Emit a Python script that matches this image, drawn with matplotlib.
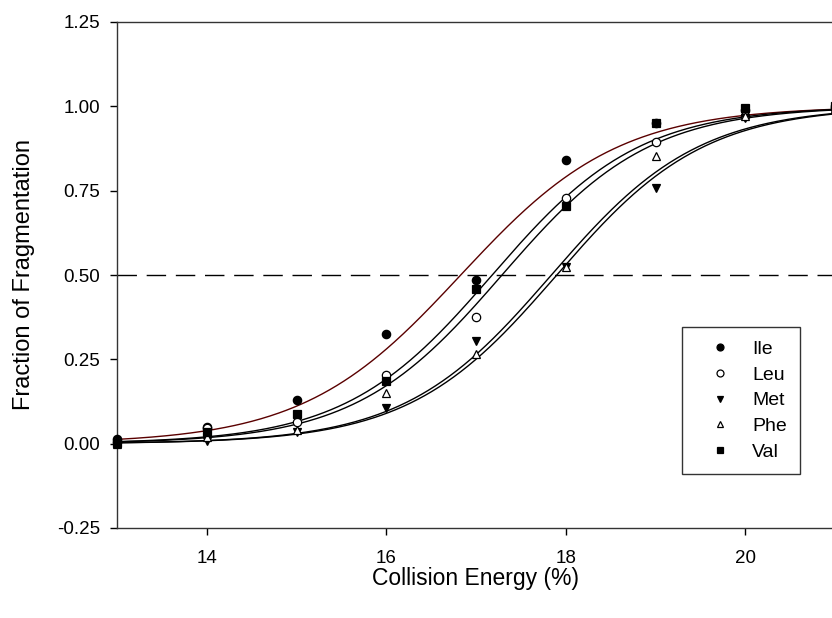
import numpy as np
import matplotlib
matplotlib.use("Agg")
import matplotlib.pyplot as plt
from matplotlib.ticker import FormatStrFormatter
from matplotlib.lines import Line2D

plt.rcParams['font.family'] = ['Liberation Sans', 'DejaVu Sans']
plt.rcParams['axes.unicode_minus'] = False

energy = [13, 14, 15, 16, 17, 18, 19, 20, 21]
ile = [0.015, 0.050, 0.130, 0.326, 0.485, 0.841, 0.950, 0.990, 1.000]
leu = [0.005, 0.045, 0.065, 0.203, 0.375, 0.727, 0.894, 0.970, 0.995]
met = [0.000, 0.008, 0.035, 0.105, 0.305, 0.525, 0.757, 0.965, 0.995]
phe = [0.000, 0.020, 0.040, 0.149, 0.265, 0.525, 0.853, 0.970, 0.995]
val = [0.003, 0.035, 0.087, 0.187, 0.458, 0.705, 0.952, 0.994, 1.000]

names = ['Ile', 'Leu', 'Met', 'Phe', 'Val']
series = [ile, leu, met, phe, val]
# sigmoid fit parameters (midpoint, slope)
fit_x0 = [16.83, 17.18, 17.84, 17.90, 17.29]
fit_b = [0.88, 0.82, 0.82, 0.82, 0.82]

markers = ['o', 'o', 'v', '^', 's']
facecols = ['black', 'white', 'black', 'white', 'black']
curvecols = ['#5a0000', 'black', 'black', 'black', 'black']

fig = plt.figure(figsize=(8.32, 6.18), dpi=100)
ax = fig.add_axes([117/832, 1 - 528/618, (835 - 117)/832, (528 - 22)/618])

xs = np.linspace(13, 21, 400)
for x0, b, c in zip(fit_x0, fit_b, curvecols):
    ax.plot(xs, 1/(1 + np.exp(-(xs - x0)/b)), color=c, lw=1.0, zorder=2, clip_on=False)

ax.axhline(0.5, color='black', lw=1.0, dashes=(14, 7), zorder=1)

handles = []
for name, ys, m, fc in zip(names, series, markers, facecols):
    ax.plot(energy, ys, linestyle='none', marker=m, markersize=6,
            markerfacecolor=fc, markeredgecolor='black', markeredgewidth=0.9,
            zorder=3, clip_on=False)
    handles.append(Line2D([], [], linestyle='none', marker=m, markersize=5,
                          markerfacecolor=fc, markeredgecolor='black',
                          markeredgewidth=0.9, label=name))

ax.set_xlim(13, 21)
ax.set_ylim(-0.25, 1.25)
ax.set_xticks([14, 16, 18, 20])
ax.set_yticks([-0.25, 0.0, 0.25, 0.5, 0.75, 1.0, 1.25])
ax.yaxis.set_major_formatter(FormatStrFormatter('%.2f'))
ax.tick_params(direction='out', length=5, width=1, labelsize=13.5)
ax.tick_params(axis='x', pad=11)
ax.tick_params(axis='y', pad=7)
for s in ax.spines.values():
    s.set_linewidth(1.0)
    s.set_color('#333333')

ax.set_xlabel('Collision Energy (%)', fontsize=16.5, labelpad=0)
ax.set_ylabel('Fraction of Fragmentation', fontsize=17, labelpad=16)

leg = ax.legend(handles=handles, loc='upper left',
                bbox_to_anchor=((682 - 117)/718, (528 - 327)/506),
                frameon=True, fancybox=False, edgecolor='black', fontsize=14,
                handletextpad=0.4, labelspacing=0.41, borderpad=0.7, handlelength=2.5,
                borderaxespad=0)
leg.get_frame().set_linewidth(1.0)

fig.savefig('out.png', dpi=100)
